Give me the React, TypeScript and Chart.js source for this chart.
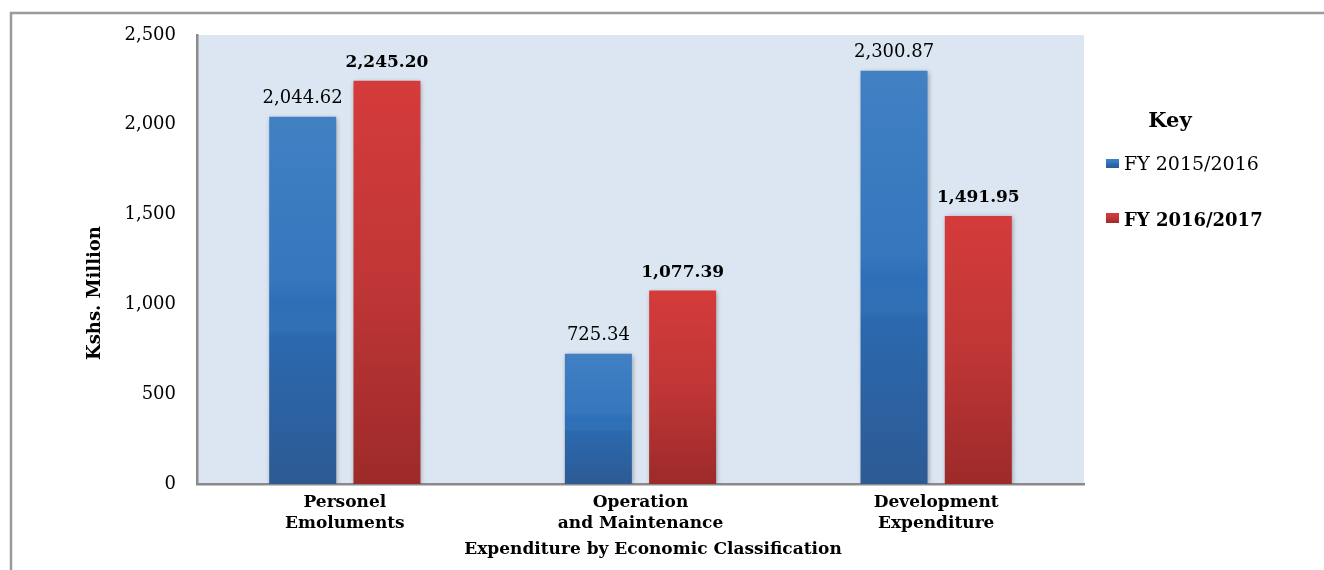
import { useEffect, useRef } from "react";
import { Chart, registerables } from "chart.js";

Chart.register(...registerables);

const categories: string[][] = [
  ["Personel", "Emoluments"],
  ["Operation", "and Maintenance"],
  ["Development", "Expenditure"],
];
const seriesNames = ["FY 2015/2016", "FY 2016/2017"];
const fy2015 = [2044.62, 725.34, 2300.87];
const fy2016 = [2245.2, 1077.39, 1491.95];
const yTickValues = [0, 500, 1000, 1500, 2000, 2500];
const yTitle = "Kshs. Million";
const xTitle = "Expenditure by Economic Classification";
const legendTitle = "Key";

const SERIF = "'DejaVu Serif', 'Liberation Serif', serif";
const blueStops: [number, string][] = [
  [0, "#4180c3"],
  [0.45, "#3576bd"],
  [0.5, "#2d6fb8"],
  [0.58, "#3270b5"],
  [0.6, "#2b69af"],
  [1, "#2d5a94"],
];
const redStops: [number, string][] = [
  [0, "#d53b3b"],
  [0.5, "#c03636"],
  [1, "#9d2a2a"],
];

function fmt(v: number, dec: number) {
  return v.toLocaleString("en-US", { minimumFractionDigits: dec, maximumFractionDigits: dec });
}

function barGradient(stops: [number, string][]) {
  return (c: any) => {
    const chart = c.chart;
    const { ctx, chartArea, scales } = chart;
    if (!chartArea || !scales.y || typeof c.raw !== "number") return stops[0][1];
    const top = scales.y.getPixelForValue(c.raw);
    const bottom = scales.y.getPixelForValue(0);
    const g = ctx.createLinearGradient(0, top, 0, bottom);
    stops.forEach(([o, col]) => g.addColorStop(o, col));
    return g;
  };
}

const decorPlugin = {
  id: "decor",
  beforeDraw(chart: any) {
    const { ctx, chartArea } = chart;
    ctx.save();
    ctx.fillStyle = "#ffffff";
    ctx.fillRect(0, 0, chart.width, chart.height);
    // outer frame
    ctx.strokeStyle = "#9a9a9a";
    ctx.lineWidth = 2.5;
    ctx.beginPath();
    ctx.moveTo(11, chart.height + 5);
    ctx.lineTo(11, 13);
    ctx.lineTo(chart.width + 5, 13);
    ctx.stroke();
    // plot background
    ctx.fillStyle = "#dce6f2";
    ctx.fillRect(chartArea.left, chartArea.top, chartArea.right - chartArea.left, chartArea.bottom - chartArea.top);
    ctx.restore();
  },
  beforeDatasetsDraw(chart: any) {
    const { ctx } = chart;
    ctx.save();
    ctx.shadowColor = "rgba(0,0,0,0.35)";
    ctx.shadowBlur = 5;
    ctx.shadowOffsetX = 1;
    ctx.shadowOffsetY = 1;
  },
  afterDatasetsDraw(chart: any) {
    const { ctx } = chart;
    ctx.restore();
    ctx.save();
    ctx.fillStyle = "#000";
    ctx.textAlign = "center";
    ctx.textBaseline = "alphabetic";
    chart.data.datasets.forEach((ds: any, di: number) => {
      const meta = chart.getDatasetMeta(di);
      ctx.font = di === 0 ? `18px ${SERIF}` : `bold 17px ${SERIF}`;
      meta.data.forEach((bar: any, i: number) => {
        ctx.fillText(fmt(ds.data[i], 2), bar.x, bar.y - 14);
      });
    });
    // axis titles
    ctx.font = `bold 17px ${SERIF}`;
    ctx.fillText(xTitle, 653, 554);
    ctx.save();
    ctx.translate(95, 293);
    ctx.rotate(-Math.PI / 2);
    ctx.font = `bold 18px ${SERIF}`;
    ctx.textBaseline = "middle";
    ctx.fillText(yTitle, 0, 0);
    ctx.restore();
    // legend
    ctx.font = `bold 21px ${SERIF}`;
    ctx.fillText(legendTitle, 1170, 127);
    ctx.textAlign = "left";
    const sq = (y: number, h: number, stops: [number, string][]) => {
      const g = ctx.createLinearGradient(0, y, 0, y + h);
      stops.forEach(([o, col]) => g.addColorStop(o, col));
      ctx.fillStyle = g;
      ctx.fillRect(1106, y, 13, h);
    };
    sq(159, 9, blueStops);
    sq(213, 10, redStops);
    ctx.fillStyle = "#000";
    ctx.font = `19px ${SERIF}`;
    ctx.fillText(seriesNames[0], 1124, 170);
    ctx.font = `bold 18px ${SERIF}`;
    ctx.fillText(seriesNames[1], 1124, 226);
    ctx.restore();
  },
};

export default function App() {
  const ref = useRef<HTMLCanvasElement | null>(null);
  useEffect(() => {
    if (!ref.current) return;
    const chart = new Chart(ref.current, {
      type: "bar",
      data: {
        labels: categories,
        datasets: [
          {
            label: seriesNames[0],
            data: fy2015,
            backgroundColor: barGradient(blueStops),
            borderWidth: 0,
          },
          {
            label: seriesNames[1],
            data: fy2016,
            backgroundColor: barGradient(redStops),
            borderWidth: 0,
          },
        ],
      },
      options: {
        responsive: false,
        animation: false,
        layout: { padding: { left: 0, top: 35, right: 240, bottom: 0 } },
        datasets: { bar: { categoryPercentage: 0.57, barPercentage: 0.795 } },
        plugins: { legend: { display: false }, tooltip: { enabled: false }, title: { display: false } },
        scales: {
          x: {
            grid: { display: false, drawTicks: false },
            border: { display: true, color: "#8a8a8a", width: 2.5 },
            ticks: {
              color: "#000",
              padding: 8,
              maxRotation: 0,
              autoSkip: false,
              font: { family: SERIF, size: 17, weight: "bold", lineHeight: 1.24 },
            },
            afterFit: (s: any) => {
              s.height = 86;
            },
          },
          y: {
            min: 0,
            max: 2500,
            grid: { display: false, drawTicks: false },
            border: { display: true, color: "#8a8a8a", width: 2.5 },
            afterBuildTicks: (s: any) => {
              s.ticks = yTickValues.map((v) => ({ value: v }));
            },
            ticks: {
              color: "#000",
              padding: 21,
              font: { family: SERIF, size: 18 },
              callback: (v: any) => fmt(Number(v), 0),
            },
            afterFit: (s: any) => {
              s.width = 197;
            },
          },
        },
      },
      plugins: [decorPlugin],
    });
    return () => chart.destroy();
  }, []);
  return (
    <div style={{ position: "fixed", left: 0, top: 0, width: 1324, height: 570, background: "#fff" }}>
      <canvas ref={ref} width={1324} height={570} style={{ display: "block" }} />
    </div>
  );
}
